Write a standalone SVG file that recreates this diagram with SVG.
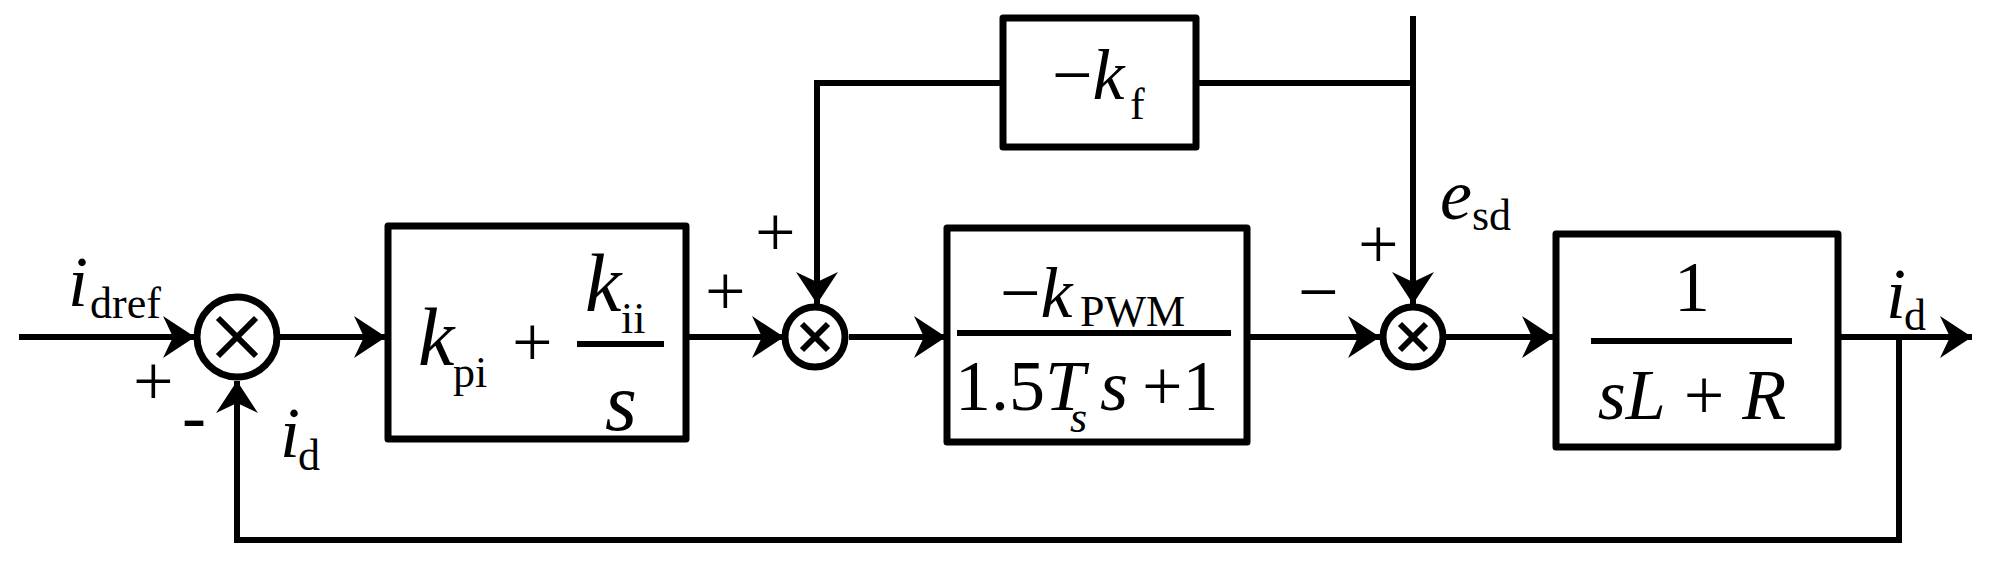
<svg xmlns="http://www.w3.org/2000/svg" width="1993" height="564" viewBox="0 0 1993 564">
<style>
.b{fill:#fff;stroke:#000;stroke-width:7;stroke-linejoin:round}
.l{fill:none;stroke:#000;stroke-width:6}
text{font-family:"Liberation Serif","Times New Roman","DejaVu Serif",serif;fill:#000}
.i{font-style:italic}
.s{font-size:72px}
.m{font-size:44px}
</style>
<defs>
<marker id="a" markerUnits="userSpaceOnUse" markerWidth="40" markerHeight="48" viewBox="-34 -24 36 48" refX="0" refY="0" orient="auto">
<path d="M0,0 L-32,-21 L-22,0 L-32,21 Z" fill="#000"/>
</marker>
</defs>
<g id="connectors">
<line class="l" x1="19" y1="337" x2="195" y2="337" marker-end="url(#a)"/>
<line class="l" x1="279" y1="337" x2="386" y2="337" marker-end="url(#a)"/>
<line class="l" x1="686" y1="337" x2="784" y2="337" marker-end="url(#a)"/>
<polyline class="l" points="1003,83 817,83 817,304" marker-end="url(#a)"/>
<line class="l" x1="849" y1="337" x2="946" y2="337" marker-end="url(#a)"/>
<line class="l" x1="1196" y1="83" x2="1413" y2="83"/>
<line class="l" x1="1413" y1="16" x2="1413" y2="304" marker-end="url(#a)"/>
<line class="l" x1="1247" y1="337" x2="1380" y2="337" marker-end="url(#a)"/>
<line class="l" x1="1445" y1="337" x2="1554" y2="337" marker-end="url(#a)"/>
<line class="l" x1="1838" y1="337" x2="1972" y2="337" marker-end="url(#a)"/>
<polyline class="l" points="1899,337 1899,540 237,540 237,381" marker-end="url(#a)"/>
</g>
<g id="sum1">
<circle class="b" cx="237" cy="337" r="40"/>
<path class="l" d="M218,318 L256,356 M256,318 L218,356"/>
</g>
<g id="pi">
<rect class="b" x="388" y="226" width="298" height="213"/>
<text class="i" x="418" y="365" font-size="82">k</text>
<text class="m" x="453" y="387">pi</text>
<text class="s" x="512" y="366">+</text>
<line class="l" x1="577" y1="344" x2="664" y2="344"/>
<text class="i" x="585" y="311" font-size="82">k</text>
<text class="m" x="621" y="333">ii</text>
<text class="i" x="605" y="430" font-size="82">s</text>
</g>
<g id="sum2">
<circle class="b" cx="815" cy="337" r="30"/>
<path class="l" d="M802,324 L828,350 M828,324 L802,350"/>
</g>
<g id="kf">
<rect class="b" x="1003" y="18" width="193" height="129"/>
<text class="s" x="1052" y="99">−<tspan class="i">k</tspan></text>
<text class="m" x="1130" y="119">f</text>
</g>
<g id="pwm">
<rect class="b" x="947" y="228" width="300" height="214"/>
<line class="l" x1="957" y1="333" x2="1231" y2="333"/>
<text class="s" x="1000" y="317">−<tspan class="i">k</tspan></text>
<text class="m" x="1080" y="326">PWM</text>
<text class="s" x="955" y="410">1.5<tspan class="i">T</tspan></text>
<text class="i m" x="1070" y="432">s</text>
<text class="s i" x="1100" y="410">s</text>
<text class="s" x="1142" y="410">+1</text>
</g>
<g id="sum3">
<circle class="b" cx="1413" cy="337" r="30"/>
<path class="l" d="M1400,324 L1426,350 M1426,324 L1400,350"/>
</g>
<g id="plant">
<rect class="b" x="1556" y="234" width="282" height="213"/>
<text class="s" x="1692" y="311" text-anchor="middle">1</text>
<line class="l" x1="1591" y1="341" x2="1792" y2="341"/>
<text class="s" x="1692" y="419" text-anchor="middle"><tspan class="i">sL</tspan> + <tspan class="i">R</tspan></text>
</g>
<g id="labels">
<text class="s i" x="68" y="306">i</text>
<text class="m" x="90" y="318">dref</text>
<text class="s" x="133" y="405">+</text>
<text class="s" x="182" y="440">-</text>
<text class="s i" x="280" y="457">i</text>
<text class="m" x="298" y="470">d</text>
<text class="s" x="705" y="315">+</text>
<text class="s" x="755" y="256">+</text>
<text class="s" x="1298" y="316">−</text>
<text class="s" x="1358" y="268">+</text>
<text class="s i" x="1440" y="219">e</text>
<text class="m" x="1472" y="230">sd</text>
<text class="s i" x="1886" y="318">i</text>
<text class="m" x="1904" y="330">d</text>
</g>
</svg>
